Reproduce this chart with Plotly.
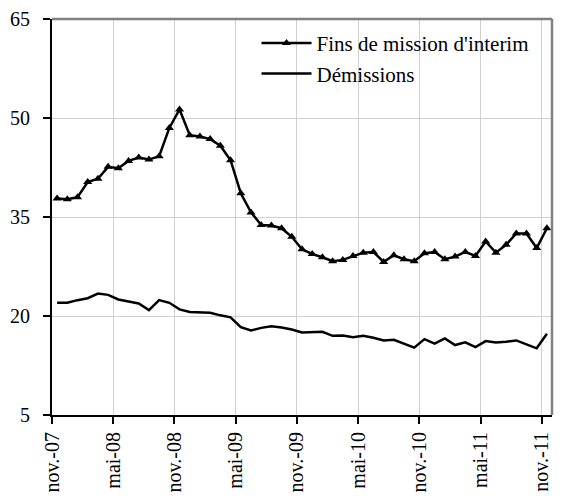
"""Fins de mission d'interim vs Démissions, monthly nov-07 to nov-11."""

import plotly.graph_objects as go

# monthly values, nov-07 .. nov-11 (49 months)
FINS_MISSION = [
    37.8, 37.7, 38.0, 40.3, 40.8, 42.6, 42.4, 43.5, 44.0, 43.7,
    44.2, 48.5, 51.3, 47.4, 47.2, 46.8, 45.8, 43.6, 38.6, 35.7,
    33.8, 33.7, 33.3, 32.0, 30.1, 29.4, 28.9, 28.3, 28.5, 29.1,
    29.6, 29.7, 28.2, 29.2, 28.6, 28.3, 29.5, 29.7, 28.6, 29.0,
    29.7, 29.1, 31.3, 29.6, 30.8, 32.5, 32.5, 30.3, 33.3,
]
DEMISSIONS = [
    22.0, 22.0, 22.4, 22.7, 23.4, 23.2, 22.5, 22.2, 21.9, 20.9,
    22.4, 22.0, 21.0, 20.6, 20.6, 20.5, 20.1, 19.8, 18.3, 17.8,
    18.2, 18.45, 18.25, 17.95, 17.5, 17.5, 17.6, 17.0, 17.05, 16.8,
    17.0, 16.7, 16.3, 16.4, 15.8, 15.2, 16.5, 15.8, 16.6, 15.6,
    16.0, 15.3, 16.2, 16.0, 16.1, 16.3, 15.7, 15.1, 17.3,
]
TICK_MONTHS = [0, 6, 12, 18, 24, 30, 36, 42, 48]
TICK_LABELS = ["nov.-07", "mai-08", "nov.-08", "mai-09", "nov.-09",
               "mai-10", "nov.-10", "mai-11", "nov.-11"]
Y_TICKS = [5, 20, 35, 50, 65]

# points sit in the middle of each month slot
x = [i + 0.5 for i in range(len(FINS_MISSION))]

FONT = "Liberation Serif, Times New Roman, serif"

fig = go.Figure()
fig.add_trace(go.Scatter(
    x=x, y=FINS_MISSION, name="Fins de mission d'interim",
    mode="lines+markers",
    line=dict(color="black", width=2.5),
    marker=dict(symbol="triangle-up", size=8, color="black"),
))
fig.add_trace(go.Scatter(
    x=x, y=DEMISSIONS, name="Démissions",
    mode="lines",
    line=dict(color="black", width=2.5),
))

fig.update_xaxes(
    range=[0, 49], automargin=False,
    tickvals=TICK_MONTHS, ticktext=TICK_LABELS, tickangle=-90,
    ticks="outside", ticklen=7, tickcolor="black", tickwidth=1.5,
    showline=True, linecolor="black", linewidth=2,
    showgrid=True, gridcolor="#d0d0d0", gridwidth=1,
    zeroline=False,
    tickfont=dict(family=FONT, size=20, color="black"),
)
fig.update_yaxes(
    range=[5, 65], tickvals=Y_TICKS, automargin=False,
    ticks="outside", ticklen=7, tickcolor="black", tickwidth=1.5,
    ticklabelstandoff=9,
    showline=True, linecolor="black", linewidth=2,
    showgrid=True, gridcolor="#d0d0d0", gridwidth=1,
    zeroline=False,
    tickfont=dict(family=FONT, size=20, color="black"),
)

# gray top and right frame
fig.add_shape(type="line", xref="paper", yref="paper", x0=0, x1=1, y0=1, y1=1,
              line=dict(color="#808080", width=2.5))
fig.add_shape(type="line", xref="paper", yref="paper", x0=1, x1=1, y0=0, y1=1,
              line=dict(color="#808080", width=2.5))

fig.update_layout(
    width=562, height=497,
    margin=dict(l=52, r=10, t=19, b=82),
    plot_bgcolor="white", paper_bgcolor="white",
    font=dict(family=FONT, size=20, color="black"),
    legend=dict(x=0.965, y=0.99, xanchor="right", yanchor="top",
                bgcolor="rgba(0,0,0,0)", font=dict(size=21),
                tracegroupgap=0, itemwidth=50),
    showlegend=True,
)

# drop the default 8px page margin so the figure fills the window
fig.write_html(
    "out.html",
    config={"displayModeBar": False},
    post_script="document.body.style.margin='0';",
)
